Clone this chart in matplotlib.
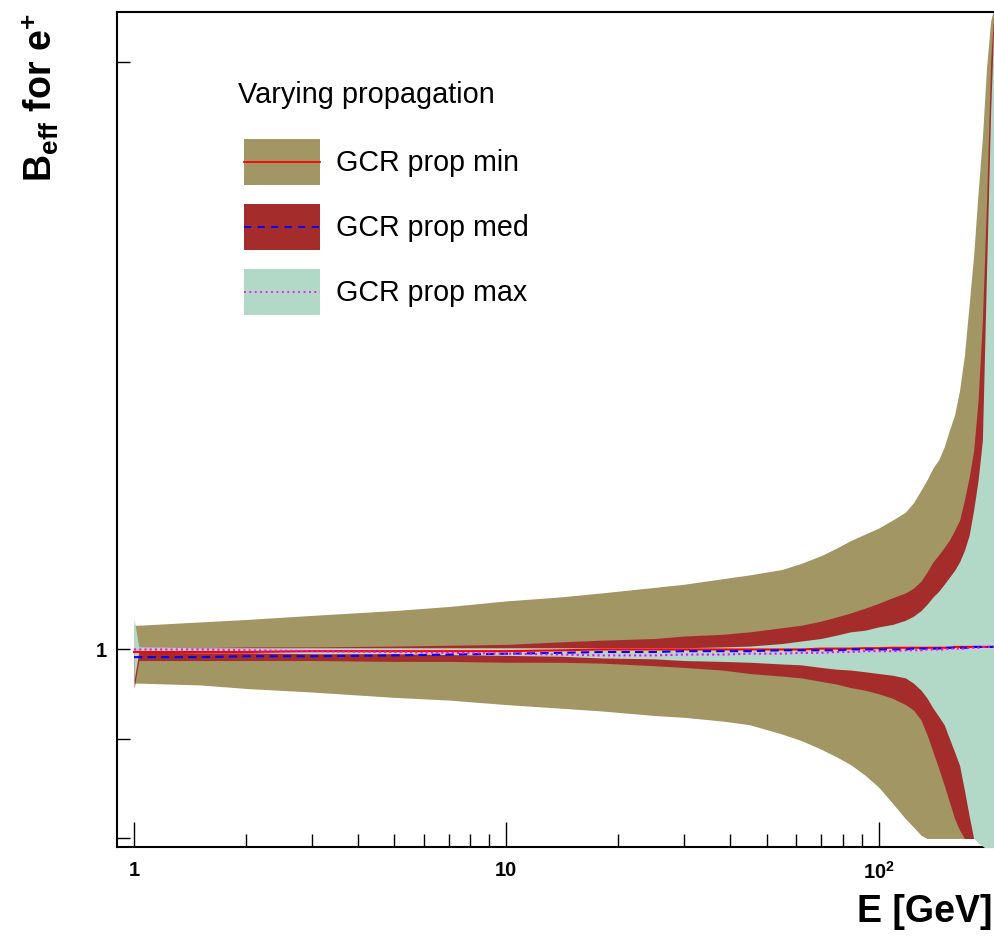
import matplotlib
matplotlib.use("Agg")
import matplotlib.pyplot as plt
from matplotlib.patches import Rectangle
from matplotlib.lines import Line2D
from matplotlib.legend_handler import HandlerBase
from matplotlib.ticker import FixedLocator, FixedFormatter, NullFormatter

plt.rcParams['font.family'] = ['Liberation Sans', 'DejaVu Sans']
plt.rcParams['mathtext.fontset'] = 'custom'
plt.rcParams['mathtext.rm'] = 'Liberation Sans:bold'
plt.rcParams['mathtext.bf'] = 'Liberation Sans:bold'
plt.rcParams['mathtext.it'] = 'Liberation Sans:bold'

# ---------------- data ----------------
energy = [1.0, 1.03, 1.5, 2, 3, 5, 7, 10, 14, 18, 25, 30, 38, 45, 55, 62, 70, 77, 84, 92,
          100, 109, 118, 124, 130, 135, 140, 145, 150, 155, 160, 165, 170, 175, 180, 185,
          190, 195, 200, 205]

min_upper = [1.029, 1.029, 1.033, 1.036, 1.041, 1.047, 1.052, 1.059, 1.064, 1.069,
             1.076, 1.080, 1.087, 1.092, 1.099, 1.107, 1.117, 1.127, 1.137, 1.146,
             1.154, 1.165, 1.176, 1.189, 1.207, 1.222, 1.239, 1.251, 1.270, 1.296,
             1.319, 1.358, 1.415, 1.502, 1.593, 1.715, 1.830, 1.990, 2.100, 2.140]
min_lower = [0.961, 0.961, 0.959, 0.955, 0.951, 0.945, 0.942, 0.937, 0.933, 0.930,
             0.925, 0.923, 0.919, 0.915, 0.905, 0.898, 0.889, 0.881, 0.873, 0.862,
             0.850, 0.834, 0.819, 0.811, 0.803, 0.800, 0.800, 0.800, 0.800, 0.800,
             0.800, 0.800, 0.800, 0.800, 0.800, 0.800, 0.800, 0.800, 0.800, 0.800]

med_upper = [1.0015, 1.0015, 1.002, 1.003, 1.003, 1.004, 1.005, 1.006, 1.009, 1.011,
             1.013, 1.016, 1.018, 1.021, 1.026, 1.029, 1.034, 1.039, 1.044, 1.050,
             1.056, 1.063, 1.069, 1.075, 1.084, 1.096, 1.109, 1.118, 1.128, 1.138,
             1.151, 1.165, 1.193, 1.225, 1.265, 1.342, 1.475, 1.700, 2.005, 2.150]
med_lower = [0.955, 0.987, 0.987, 0.987, 0.987, 0.986, 0.986, 0.985, 0.985, 0.984,
             0.981, 0.979, 0.976, 0.972, 0.969, 0.967, 0.963, 0.960, 0.956, 0.953,
             0.949, 0.944, 0.937, 0.931, 0.920, 0.904, 0.886, 0.869, 0.852, 0.835,
             0.819, 0.808, 0.800, 0.800, 0.800, 0.800, 0.800, 0.800, 0.800, 0.800]

max_upper = [1.038, 1.003, 1.002, 1.002, 1.002, 1.002, 1.002, 1.002, 1.002, 1.002,
             1.002, 1.002, 1.003, 1.004, 1.007, 1.010, 1.013, 1.017, 1.021, 1.023,
             1.027, 1.030, 1.035, 1.040, 1.047, 1.055, 1.064, 1.071, 1.080, 1.089,
             1.098, 1.109, 1.124, 1.144, 1.179, 1.221, 1.280, 1.565, 1.891, 2.150]
max_lower = [0.964, 0.997, 0.996, 0.996, 0.995, 0.995, 0.994, 0.993, 0.992, 0.990,
             0.989, 0.987, 0.986, 0.985, 0.983, 0.982, 0.979, 0.977, 0.976, 0.974,
             0.972, 0.970, 0.967, 0.961, 0.953, 0.944, 0.933, 0.924, 0.915, 0.900,
             0.886, 0.872, 0.847, 0.822, 0.800, 0.796, 0.793, 0.790, 0.790, 0.790]

min_central = [0.997, 0.997, 0.997, 0.997, 0.998, 0.998, 0.998, 0.998, 0.999, 1.000,
               1.000, 1.000, 1.000, 1.000, 1.000, 1.000, 1.001, 1.001, 1.001, 1.0015,
               1.0015, 1.002, 1.002, 1.002, 1.002, 1.002, 1.002, 1.002, 1.002, 1.002,
               1.003, 1.003, 1.003, 1.003, 1.003, 1.003, 1.003, 1.003, 1.003, 1.003]
med_central = [0.991, 0.991, 0.991, 0.992, 0.992, 0.993, 0.994, 0.995, 0.996, 0.997,
               0.997, 0.998, 0.998, 0.998, 0.999, 0.999, 0.999, 0.999, 1.000, 1.000,
               1.000, 1.000, 1.000, 1.001, 1.001, 1.001, 1.001, 1.001, 1.002, 1.002,
               1.002, 1.002, 1.002, 1.002, 1.003, 1.003, 1.003, 1.003, 1.003, 1.003]
max_central = [1.000, 1.000, 1.000, 0.999, 0.998, 0.997, 0.996, 0.995, 0.994, 0.993,
               0.993, 0.994, 0.994, 0.995, 0.995, 0.996, 0.996, 0.997, 0.997, 0.998,
               0.998, 0.998, 0.999, 0.999, 0.999, 1.000, 1.000, 1.000, 1.000, 1.001,
               1.001, 1.001, 1.001, 1.002, 1.002, 1.002, 1.003, 1.003, 1.003, 1.003]

labels = ["GCR prop min", "GCR prop med", "GCR prop max"]
legend_title = "Varying propagation"
x_ticks = [1, 10, 100]
x_ticklabels = ["1", "10", r"$\mathbf{10^{2}}$"]
y_ticks = [0.8, 0.9, 1, 2]
y_ticklabels = ["", "", "1", ""]

c_min = "#a29664"
c_med = "#a42d2c"
c_max = "#b2d8c7"
dash_med = (0, (4, 2.5))
dot_max = (0, (1, 1.5))

# ---------------- figure ----------------
W, H = 995, 936
fig = plt.figure(figsize=(W / 100, H / 100), dpi=100)
ax = fig.add_axes([117 / W, (H - 847) / H, (W - 117) / W, (847 - 11.7) / H])
ax.set_xscale("log")
ax.set_yscale("log")

ax.fill_between(energy, min_lower, min_upper, color=c_min, lw=0, zorder=1)
ax.fill_between(energy, med_lower, med_upper, color=c_med, lw=0, zorder=2)
ax.fill_between(energy, max_lower, max_upper, color=c_max, lw=0, zorder=3)

ax.plot(energy, min_central, color="#ff0000", lw=1.5, zorder=4)
ax.plot(energy, med_central, color="#0000ff", lw=1.5, ls=dash_med, zorder=5)
ax.plot(energy, max_central, color="#ff00ff", lw=1.5, ls=dot_max, zorder=6)

ax.set_xlim(0.9, 205.4)
ax.set_ylim(0.792, 2.123)

for s in ["left", "bottom", "top"]:
    ax.spines[s].set_linewidth(1.5)
ax.spines["right"].set_visible(False)

ax.xaxis.set_major_locator(FixedLocator(x_ticks))
ax.xaxis.set_major_formatter(FixedFormatter(x_ticklabels))
minor_x = [m * 10 ** d for d in range(0, 3) for m in range(2, 10) if m * 10 ** d < 205]
ax.xaxis.set_minor_locator(FixedLocator(minor_x))
ax.xaxis.set_minor_formatter(NullFormatter())
ax.yaxis.set_major_locator(FixedLocator(y_ticks))
ax.yaxis.set_major_formatter(FixedFormatter(y_ticklabels))
ax.yaxis.set_minor_locator(FixedLocator([]))

ax.tick_params(axis="x", which="major", direction="in", length=18, width=1.0,
               pad=10, labelsize=14.5, top=False)
ax.tick_params(axis="x", which="minor", direction="in", length=9.4, width=1.0, top=False)
ax.tick_params(axis="y", which="major", direction="in", length=9.4, width=1.0,
               pad=7, labelsize=14.5, right=False)
for lab in ax.get_xticklabels() + ax.get_yticklabels():
    lab.set_fontweight("bold")

fig.text(993 / W, 1 - 922 / H, "E [GeV]", ha="right", va="baseline",
         fontsize=27, fontweight="bold")
fig.text(53 / W, 1 - 13 / H, r"B$_{\mathbf{eff}}$ for e$^{\mathbf{+}}$",
         rotation=90, rotation_mode="anchor", ha="right", va="baseline",
         fontsize=27, fontweight="bold")


# legend: filled box with centred line
class BandHandler(HandlerBase):
    def create_artists(self, legend, orig_handle, xdescent, ydescent, width, height,
                       fontsize, trans):
        face, color, ls = orig_handle
        r = Rectangle((-xdescent, -ydescent), width, height, facecolor=face,
                      edgecolor="none", transform=trans)
        yc = -ydescent + height / 2
        ln = Line2D([-xdescent, -xdescent + width], [yc, yc], color=color, lw=1.3,
                    ls=ls, transform=trans)
        return [r, ln]


band_handles = [(c_min, "#ff0000", "-"), (c_med, "#0000ff", (0, (4, 3.5))),
                (c_max, "#ff00ff", (0, (1, 2)))]
fig.text(238 / W, 1 - 95 / H, legend_title, ha="left", va="center", fontsize=20.8)
fs = 20.6
fs_px = fs / 72 * 100
leg = ax.legend(band_handles, labels, loc="upper left",
                handler_map={tuple: BandHandler()},
                bbox_to_anchor=(244 / W, 1 - 139 / H), bbox_transform=fig.transFigure,
                frameon=False, fontsize=fs, handlelength=76 / fs_px,
                handleheight=2.1, handletextpad=16 / fs_px,
                labelspacing=19 / fs_px, borderpad=0, borderaxespad=0)

fig.savefig("out.png", dpi=100)
